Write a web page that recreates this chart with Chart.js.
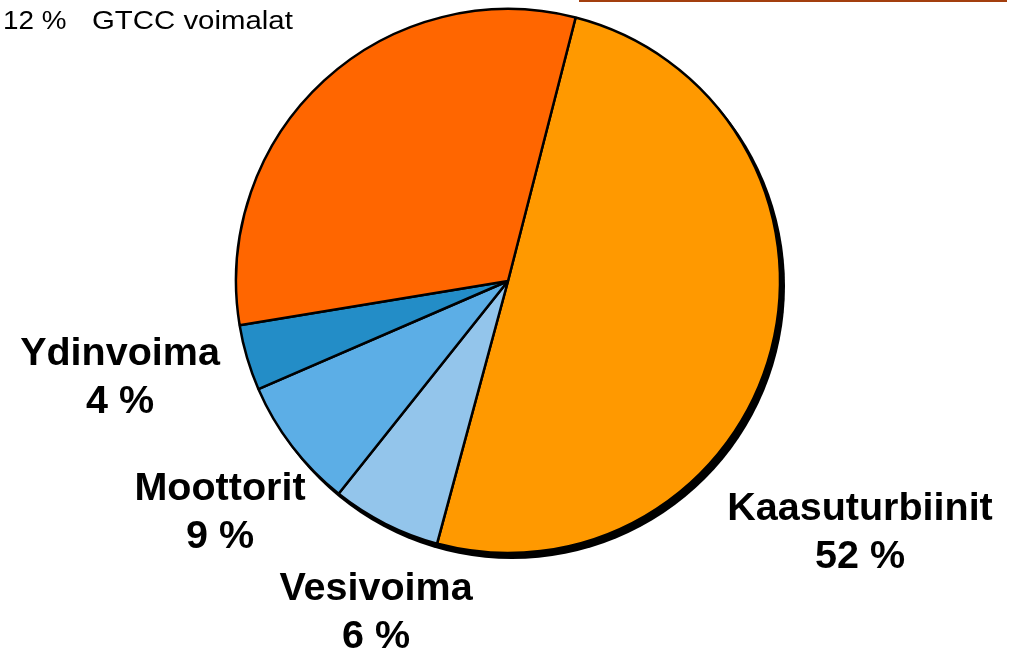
<!DOCTYPE html>
<html>
<head>
<meta charset="utf-8">
<script src="https://cdn.jsdelivr.net/npm/chart.js@4"></script>
<style>
  html, body { margin: 0; padding: 0; background: #fff; }
  #wrap { position: relative; width: 1017px; height: 657px; overflow: hidden; }
  #topline { position: absolute; left: 579px; top: 0; width: 428px; height: 2px; background: #a33f0e; }
  .note { position: absolute; top: 5px; font: 26px "Liberation Sans", Arial, sans-serif; color: #000; white-space: pre; line-height: 30px; transform-origin: left center; }
</style>
</head>
<body>
<div id="wrap">
  <canvas id="pie" width="1017" height="657"></canvas>
  <div id="topline"></div>
  <div class="note" style="left:3px; transform: scaleX(1.07)">12 %</div>
  <div class="note" style="left:92px; transform: scaleX(1.13)">GTCC voimalat</div>
</div>
<script>
// ---- data ----
const categories = ['Kaasuturbiinit', 'Vesivoima', 'Moottorit', 'Ydinvoima', 'GTCC voimalat'];
const shares = [50.2, 6.5, 7.8, 3.9, 31.6];          // slice sizes
const shownPct = ['52 %', '6 %', '9 %', '4 %', ''];    // printed labels
const sliceColors = ['#ff9900', '#93c5eb', '#5caee6', '#238dc7', '#ff6600'];

// label placement (center x, baseline y of first line)
const labelPos = [[860, 520], [376, 600], [220, 500], [120, 365], null];

// shadow under the pie
const pieShadow = {
  id: 'pieShadow',
  beforeDatasetsDraw(chart) {
    const arc = chart.getDatasetMeta(0).data[0];
    if (!arc) return;
    const ctx = chart.ctx;
    ctx.save();
    ctx.fillStyle = '#000';
    ctx.beginPath();
    ctx.arc(arc.x + 4, arc.y + 5, arc.outerRadius + 1, 0, Math.PI * 2);
    ctx.fill();
    ctx.restore();
  }
};

// category + percent text next to slices
const sliceLabels = {
  id: 'sliceLabels',
  afterDraw(chart) {
    const ctx = chart.ctx;
    ctx.save();
    ctx.fillStyle = '#000';
    ctx.textAlign = 'center';
    ctx.textBaseline = 'alphabetic';
    ctx.font = 'bold 39.5px "Liberation Sans", Arial, sans-serif';
    categories.forEach((c, i) => {
      const p = labelPos[i];
      if (!p) return;
      ctx.fillText(c, p[0], p[1]);
      ctx.fillText(shownPct[i], p[0], p[1] + 48);
    });
    ctx.restore();
  }
};

new Chart(document.getElementById('pie'), {
  type: 'pie',
  data: {
    labels: categories,
    datasets: [{
      data: shares,
      backgroundColor: sliceColors,
      borderColor: '#000',
      borderWidth: 2.5,
      radius: 272
    }]
  },
  options: {
    responsive: false,
    animation: false,
    rotation: 14.4,
    layout: { padding: { left: 0, right: 1, top: 0, bottom: 95 } },
    plugins: {
      legend: { display: false },
      tooltip: { enabled: false },
      title: { display: false }
    }
  },
  plugins: [pieShadow, sliceLabels]
});
</script>
</body>
</html>
